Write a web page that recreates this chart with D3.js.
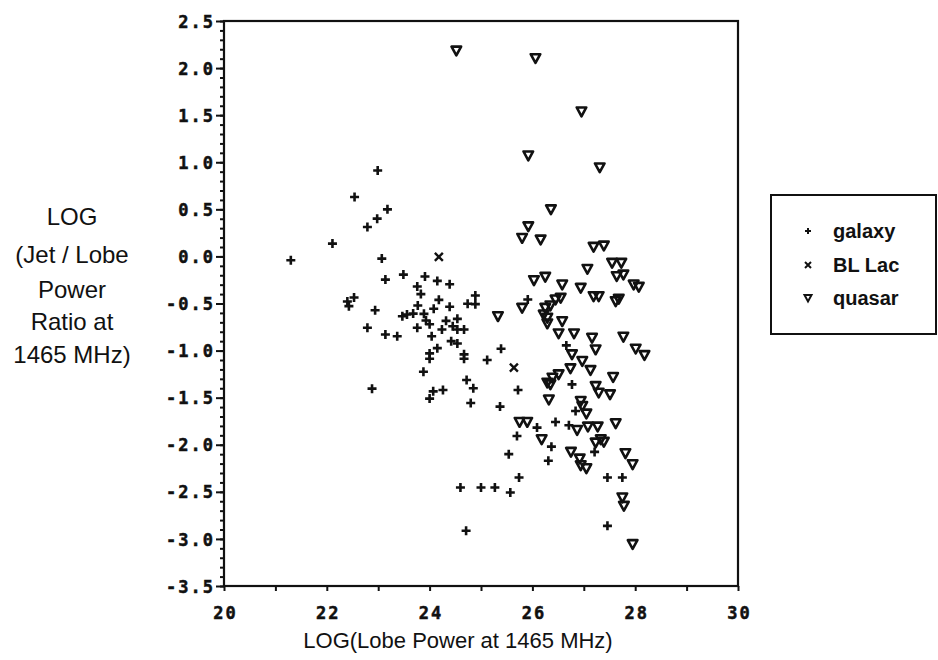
<!DOCTYPE html>
<html>
<head>
<meta charset="utf-8">
<script src="https://cdn.jsdelivr.net/npm/d3@7"></script>
<style>
  html, body { margin: 0; padding: 0; background: #ffffff; }
  svg { display: block; }
  .tick-label { font-family: "DejaVu Sans Mono", monospace; font-weight: bold; font-size: 17px; letter-spacing: 2px; fill: #111; stroke: #111; stroke-width: 0.5px; }
  .title { font-family: "Liberation Sans", Arial, sans-serif; fill: #111; }
  .legend-text { font-family: "Liberation Sans", Arial, sans-serif; font-weight: bold; font-size: 20px; fill: #111; }
</style>
</head>
<body>
<svg id="chart" width="938" height="660"></svg>
<script>
// ---- Data ----
const seriesNames = ["galaxy", "BL Lac", "quasar"];

const galaxyX = [22.99, 22.54, 23.18, 22.98, 22.79, 22.11, 21.30, 23.07, 23.14, 23.49,
  23.91, 24.15, 24.39, 23.76, 23.83, 24.18, 22.53, 22.40, 22.43, 24.89,
  24.89, 24.74, 23.77, 24.08, 24.39, 22.94, 23.47, 23.56, 23.68, 23.89,
  23.93, 24.00, 24.32, 24.54, 24.45, 24.54, 24.67, 24.24, 23.76, 22.79,
  23.14, 23.37, 24.04, 24.42, 24.54, 24.15, 24.00, 24.00, 24.67, 24.67,
  25.12, 23.88, 22.88, 24.72, 24.85, 24.07, 24.26, 24.00, 24.80, 24.60,
  25.00, 24.71, 25.91, 25.39, 26.66, 25.72, 26.77, 25.37, 26.84, 26.45,
  26.71, 26.09, 25.70, 26.37, 26.31, 25.54, 27.21, 25.74, 25.27, 25.57,
  27.46, 27.75, 27.46];
const galaxyY = [0.913, 0.631, 0.50, 0.401, 0.313, 0.136, -0.041, -0.023, -0.246, -0.193,
  -0.214, -0.26, -0.295, -0.32, -0.40, -0.461, -0.437, -0.479, -0.528, -0.415,
  -0.507, -0.503, -0.521, -0.556, -0.535, -0.571, -0.635, -0.617, -0.607, -0.61,
  -0.68, -0.72, -0.684, -0.663, -0.741, -0.776, -0.776, -0.776, -0.758, -0.758,
  -0.829, -0.847, -0.847, -0.90, -0.924, -0.974, -1.03, -1.087, -1.04, -1.087,
  -1.10, -1.224, -1.404, -1.313, -1.40, -1.433, -1.419, -1.51, -1.557, -2.454,
  -2.454, -2.914, -0.458, -0.98, -0.945, -1.419, -1.359, -1.595, -1.642, -1.758,
  -1.793, -1.818, -1.907, -2.02, -2.17, -2.10, -2.076, -2.348, -2.454, -2.507,
  -2.348, -2.348, -2.861];

const blLacX = [24.18, 25.64];
const blLacY = [-0.005, -1.182];

const quasarX = [24.52, 26.06, 26.955, 25.92, 27.31, 26.36, 25.92, 25.80, 26.16, 27.19,
  27.39, 27.55, 27.73, 27.07, 27.64, 27.77, 26.03, 26.25, 26.58, 26.94,
  27.97, 28.07, 27.19, 27.29, 27.62, 27.68, 26.55, 26.45, 26.35, 26.25,
  25.80, 26.22, 26.29, 26.29, 25.33, 26.58, 26.51, 26.81, 27.16, 27.77,
  27.23, 28.01, 28.18, 26.77, 26.97, 26.74, 27.13, 27.57, 26.51, 26.39,
  26.29, 26.35, 27.23, 27.29, 27.51, 26.32, 26.94, 26.97, 27.05, 25.75,
  25.90, 26.18, 26.87, 27.08, 27.27, 27.62, 27.23, 27.33, 27.39, 26.75,
  26.92, 26.94, 27.05, 27.81, 27.95, 27.75, 27.78, 27.95];
const quasarY = [2.185, 2.105, 1.539, 1.072, 0.945, 0.50, 0.319, 0.196, 0.178, 0.101,
  0.115, -0.069, -0.069, -0.133, -0.21, -0.193, -0.253, -0.217, -0.299, -0.334,
  -0.299, -0.323, -0.423, -0.423, -0.476, -0.45, -0.44, -0.458, -0.521, -0.546,
  -0.546, -0.617, -0.652, -0.712, -0.635, -0.688, -0.818, -0.818, -0.864, -0.853,
  -0.988, -0.98, -1.048, -1.04, -1.111, -1.189, -1.207, -1.281, -1.253, -1.288,
  -1.341, -1.359, -1.377, -1.447, -1.465, -1.52, -1.536, -1.589, -1.67, -1.758,
  -1.758, -1.942, -1.843, -1.807, -1.807, -1.772, -1.977, -1.942, -1.97, -2.076,
  -2.147, -2.218, -2.25, -2.09, -2.207, -2.56, -2.649, -3.055];

const xTickValues = [20, 21, 22, 23, 24, 25, 26, 27, 28, 29, 30];
const xTickLabels = ["20", "", "22", "", "24", "", "26", "", "28", "", "30"];
const yTickValues = [2.5, 2.0, 1.5, 1.0, 0.5, 0.0, -0.5, -1.0, -1.5, -2.0, -2.5, -3.0, -3.5];
const yTickLabels = ["2.5", "2.0", "1.5", "1.0", "0.5", "0.0", "-0.5", "-1.0", "-1.5", "-2.0", "-2.5", "-3.0", "-3.5"];
const yTitleLines = ["LOG", "(Jet / Lobe", "Power", "Ratio at", "1465 MHz)"];
const xTitle = "LOG(Lobe Power at 1465 MHz)";

// ---- Layout ----
const svg = d3.select("#chart");
const plot = { left: 224, right: 738, top: 21, bottom: 586 };
const x = d3.scaleLinear().domain([20, 30]).range([plot.left, plot.right]);
const y = d3.scaleLinear().domain([-3.5, 2.5]).range([plot.bottom, plot.top]);
const ink = "#111";

// minor y ticks every 0.1
const yMinor = d3.range(-35, 26).map(v => v / 10);
svg.append("g")
  .attr("transform", `translate(${plot.left},0)`)
  .call(d3.axisLeft(y).tickValues(yMinor).tickSize(4).tickFormat(""))
  .call(g => g.select(".domain").remove())
  .call(g => g.selectAll("line").attr("stroke", ink).attr("stroke-width", 2));

// major y ticks with labels
const yAxis = svg.append("g")
  .attr("transform", `translate(${plot.left},0)`)
  .call(d3.axisLeft(y).tickValues(yTickValues).tickSize(8).tickPadding(4)
    .tickFormat((d, i) => yTickLabels[i]));
yAxis.select(".domain").remove();
yAxis.selectAll("line").attr("stroke", ink).attr("stroke-width", 2);
yAxis.selectAll("text").attr("class", "tick-label").attr("font-family", null).attr("font-size", null)
  .attr("dy", "0.36em").attr("x", -9);

// x axis
const xAxis = svg.append("g")
  .attr("transform", `translate(0,${plot.bottom})`)
  .call(d3.axisBottom(x).tickValues(xTickValues).tickSize(5).tickPadding(10)
    .tickFormat((d, i) => xTickLabels[i]));
xAxis.select(".domain").remove();
xAxis.selectAll("line").attr("stroke", ink).attr("stroke-width", 2);
xAxis.selectAll("text").attr("class", "tick-label").attr("font-family", null).attr("font-size", null)
  .attr("y", 27).attr("dy", "0.36em").attr("dx", "1px");

// frame
svg.append("rect")
  .attr("x", plot.left).attr("y", plot.top)
  .attr("width", plot.right - plot.left).attr("height", plot.bottom - plot.top)
  .attr("fill", "none").attr("stroke", ink).attr("stroke-width", 2.2);

// markers
const plusPath = "M-4.5,0H4.5M0,-4.5V4.5";
const crossPath = "M-4,-4L4,4M4,-4L-4,4";
const triPath = "M-4.8,-4L4.8,-4L0,4.8Z";

const galaxy = galaxyX.map((v, i) => ({ x: v, y: galaxyY[i] }));
const bllac = blLacX.map((v, i) => ({ x: v, y: blLacY[i] }));
const quasar = quasarX.map((v, i) => ({ x: v, y: quasarY[i] }));

svg.append("g").selectAll("path").data(quasar).join("path")
  .attr("d", triPath)
  .attr("transform", d => `translate(${x(d.x)},${y(d.y)})`)
  .attr("fill", "none").attr("stroke", ink).attr("stroke-width", 2.6).attr("stroke-linejoin", "round");

svg.append("g").selectAll("path").data(galaxy).join("path")
  .attr("d", plusPath)
  .attr("transform", d => `translate(${x(d.x)},${y(d.y)})`)
  .attr("fill", "none").attr("stroke", ink).attr("stroke-width", 2.6);

svg.append("g").selectAll("path").data(bllac).join("path")
  .attr("d", crossPath)
  .attr("transform", d => `translate(${x(d.x)},${y(d.y)})`)
  .attr("fill", "none").attr("stroke", ink).attr("stroke-width", 2.4);

// y title
const yTitle = svg.append("text").attr("class", "title").attr("font-size", 24).attr("text-anchor", "middle");
yTitleLines.forEach((t, i) => {
  yTitle.append("tspan").attr("x", 72).attr("y", [225, 263, 298, 330, 363][i]).text(t);
});

// x title
svg.append("text").attr("class", "title").attr("font-size", 22).attr("text-anchor", "middle")
  .attr("x", 458).attr("y", 648).text(xTitle);

// legend
const legend = svg.append("g");
legend.append("rect").attr("x", 771).attr("y", 195).attr("width", 165).attr("height", 139)
  .attr("fill", "#fff").attr("stroke", ink).attr("stroke-width", 2);
const legendMarks = [
  "M-3,0H3M0,-3V3",
  "M-3,-3L3,3M3,-3L-3,3",
  "M-3.5,-3L3.5,-3L0,3.5Z"
];
const legendY = [231, 265, 298];
seriesNames.forEach((name, i) => {
  legend.append("path").attr("d", legendMarks[i])
    .attr("transform", `translate(808,${legendY[i]})`)
    .attr("fill", "none").attr("stroke", ink).attr("stroke-width", 2);
  legend.append("text").attr("class", "legend-text").attr("x", 833).attr("y", legendY[i])
    .attr("dy", "0.36em").text(name);
});
</script>
</body>
</html>
